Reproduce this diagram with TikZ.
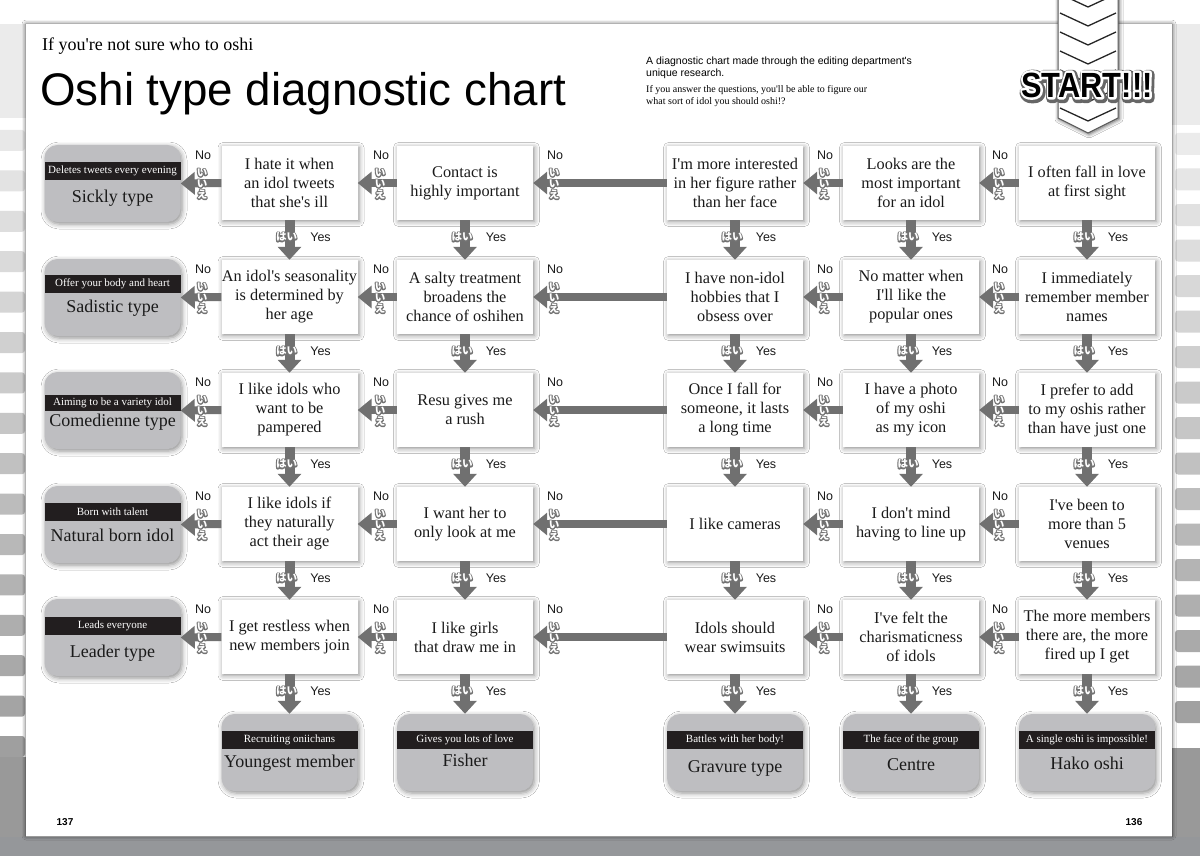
\documentclass[tikz,border=0pt]{standalone}
\usepackage{fontspec}
\setmainfont{Liberation Serif}[Ligatures=TeXOff]
\newfontfamily\arial{Liberation Sans}[Ligatures=TeXOff]
\newfontfamily\jp{Noto Sans CJK JP}
\usetikzlibrary{arrows.meta,shadows.blur}
\definecolor{arrowgray}{HTML}{707070}
\definecolor{resgray}{HTML}{BEBEC1}
\definecolor{bandblack}{HTML}{221E1F}
\definecolor{pagegray}{HTML}{95979A}
\definecolor{textblack}{HTML}{1A1A1A}

% text drawn as stroked outline only (render mode 1)
\newcommand\outlinetext[3]{\special{pdf:literal direct #1 RG #2 w 1 j 1 J 1 Tr}#3\special{pdf:literal direct 0 Tr}}

\tikzset{
  qbox/.style={fill=white, minimum width=136pt, minimum height=74pt, inner sep=0pt, align=center, text=textblack, font=\fontsize{16.3}{19}\selectfont, blur shadow={shadow xshift=1.5pt, shadow yshift=-1.5pt, shadow blur radius=5pt, shadow opacity=45}},
  rbox/.style={fill=resgray, rounded corners=13pt, minimum width=136pt, minimum height=77pt, inner sep=0pt, blur shadow={shadow xshift=1.5pt, shadow yshift=-2pt, shadow blur radius=5pt, shadow opacity=45}},
  band/.style={fill=bandblack, text=white, minimum width=136pt, minimum height=18pt, inner sep=0pt, font=\fontsize{11}{12}\selectfont},
  rname/.style={anchor=base, inner sep=0pt, text=textblack, font=\fontsize{18}{20}\selectfont},
  harrow/.style={draw=arrowgray, line width=8pt, -{Triangle[length=14pt,width=22pt]}},
  varrow/.style={draw=arrowgray, line width=10pt, -{Triangle[length=13pt,width=23pt]}},
  lab/.style={inner sep=0pt, text=textblack, font=\arial\fontsize{12.5}{13}\selectfont},
  jpv/.style={inner sep=0pt, align=center, font=\jp\bfseries\fontsize{10.5}{11}\selectfont},
  jph/.style={inner sep=0pt, font=\jp\bfseries\fontsize{10.5}{11}\selectfont},
  startlab/.style={inner sep=0pt, font=\arial\bfseries\fontsize{35}{35}\selectfont},
}

\begin{document}
\begin{tikzpicture}[x=1pt,y=-1pt]
\useasboundingbox (0,0) rectangle (1200,856);
\fill[white] (0,0) rectangle (1200,856);
% side strips with tabs
\fill[black!8] (0,24) rectangle (26,118);
\fill[black!8] (1172,24) rectangle (1200,125);
\foreach \k in {0,...,15}{\pgfmathsetmacro\p{9+1.9*\k}
  \fill[black!\p, rounded corners=3pt] (-8,{130+40.4*\k}) rectangle (25,{151+40.4*\k});}
\fill[black!40] (0,757) rectangle (26,856);
\foreach \k in {0,...,16}{\pgfmathsetmacro\p{8+1.8*\k}
  \fill[black!\p, rounded corners=3pt] (1175,{133+35.5*\k}) rectangle (1208,{155+35.5*\k});}
\fill[black!40] (1172,748) rectangle (1200,856);
\fill[pagegray] (0,837) rectangle (1200,856);
% page
\fill[white, blur shadow={shadow xshift=0pt, shadow yshift=0pt, shadow blur radius=4pt, shadow opacity=70}] (26,24) rectangle (1172,836);

% start strip
\path[fill=white, draw=black!65, line width=1pt, blur shadow={shadow xshift=1pt, shadow yshift=-1pt, shadow blur radius=4pt, shadow opacity=70}] (1058,-4) -- (1118,-4) -- (1118,118) -- (1088,133) -- (1058,118) -- cycle;
\foreach \cy in {-6,13,32,51,70,89,108}{\draw[black!85, line width=1.3pt] (1060,\cy) -- (1088,{\cy+13}) -- (1116,\cy);}
\node[startlab, text=black!60] (startshadow) at (1088,86.5) {\outlinetext{0.4 0.4 0.4}{9}{\scalebox{0.88}[1]{START!!!}}};
\node[startlab, text=white] (startoutline) at (1087,85) {\outlinetext{1 1 1}{5}{\scalebox{0.88}[1]{START!!!}}};
\node[startlab, text=black] (start) at (1087,85) {\scalebox{0.88}[1]{START!!!}};

% titles
\node[anchor=base west, inner sep=0pt, font=\fontsize{18}{20}\selectfont] (sub) at (42,51) {If you're not sure who to oshi};
\node[anchor=base west, inner sep=0pt, font=\arial\fontsize{45.7}{50}\selectfont] (title) at (40,106) {Oshi type diagnostic chart};
\node[anchor=base west, inner sep=0pt, font=\arial\fontsize{10.5}{12}\selectfont] (introA) at (646,65) {A diagnostic chart made through the editing department's};
\node[anchor=base west, inner sep=0pt, font=\arial\fontsize{10.5}{12}\selectfont] (introB) at (646,77) {unique research.};
\node[anchor=base west, inner sep=0pt, font=\fontsize{10}{12}\selectfont] (introC) at (646,93) {If you answer the questions, you'll be able to figure our};
\node[anchor=base west, inner sep=0pt, font=\fontsize{10}{12}\selectfont] (introD) at (646,105) {what sort of idol you should oshi!?};
\node[inner sep=0pt, font=\arial\bfseries\fontsize{10}{10}\selectfont] (p137) at (65,822) {137};
\node[inner sep=0pt, font=\arial\bfseries\fontsize{10}{10}\selectfont] (p136) at (1134,822) {136};

% question boxes
\node[qbox] (q1A) at (289.5,183) {I hate it when\\an idol tweets\\that she's ill};
\node[qbox] (q1B) at (465,183) {Contact is\\highly important};
\node[qbox] (q1C) at (735,183) {I'm more interested\\in her figure rather\\than her face};
\node[qbox] (q1D) at (911,183) {Looks are the\\most important\\for an idol};
\node[qbox] (q1E) at (1087,183) {I often fall in love\\at first sight};
\node[qbox] (q2A) at (289.5,297) {An idol's seasonality\\is determined by\\her age};
\node[qbox] (q2B) at (465,297) {A salty treatment\\broadens the\\chance of oshihen};
\node[qbox] (q2C) at (735,297) {I have non-idol\\hobbies that I\\obsess over};
\node[qbox] (q2D) at (911,297) {No matter when\\I'll like the\\popular ones};
\node[qbox] (q2E) at (1087,297) {I immediately\\remember member\\names};
\node[qbox] (q3A) at (289.5,410) {I like idols who\\want to be\\pampered};
\node[qbox] (q3B) at (465,410) {Resu gives me\\a rush};
\node[qbox] (q3C) at (735,410) {Once I fall for\\someone, it lasts\\a long time};
\node[qbox] (q3D) at (911,410) {I have a photo\\of my oshi\\as my icon};
\node[qbox] (q3E) at (1087,410) {I prefer to add\\to my oshis rather\\than have just one};
\node[qbox] (q4A) at (289.5,524) {I like idols if\\they naturally\\act their age};
\node[qbox] (q4B) at (465,524) {I want her to\\only look at me};
\node[qbox] (q4C) at (735,524) {I like cameras};
\node[qbox] (q4D) at (911,524) {I don't mind\\having to line up};
\node[qbox] (q4E) at (1087,524) {I've been to\\more than 5\\venues};
\node[qbox] (q5A) at (289.5,637) {I get restless when\\new members join};
\node[qbox] (q5B) at (465,637) {I like girls\\that draw me in};
\node[qbox] (q5C) at (735,637) {Idols should\\wear swimsuits};
\node[qbox] (q5D) at (911,637) {I've felt the\\charismaticness\\of idols};
\node[qbox] (q5E) at (1087,637) {The more members\\there are, the more\\fired up I get};

% left results
\node[rbox] (r1) at (112.5,183.5) {};
\node[band] (r1b) at (112.5,171) {Deletes tweets every evening};
\node[rname] (r1n) at (112.5,202) {Sickly type};
\node[rbox] (r2) at (112.5,297.5) {};
\node[band] (r2b) at (112.5,284) {Offer your body and heart};
\node[rname] (r2n) at (112.5,312) {Sadistic type};
\node[rbox] (r3) at (112.5,410.5) {};
\node[band, minimum height=16pt] (r3b) at (112.5,403) {Aiming to be a variety idol};
\node[rname] (r3n) at (112.5,426) {Comedienne type};
\node[rbox] (r4) at (112.5,524.5) {};
\node[band] (r4b) at (112.5,512) {Born with talent};
\node[rname] (r4n) at (112.5,541) {Natural born idol};
\node[rbox] (r5) at (112.5,637.5) {};
\node[band] (r5b) at (112.5,626) {Leads everyone};
\node[rname] (r5n) at (112.5,657) {Leader type};

% bottom results
\node[rbox] (bA) at (289.5,752.5) {};
\node[band] (bAb) at (289.5,740) {Recruiting oniichans};
\node[rname] (bAn) at (289.5,767) {Youngest member};
\node[rbox] (bB) at (465,752.5) {};
\node[band] (bBb) at (465,740) {Gives you lots of love};
\node[rname] (bBn) at (465,766) {Fisher};
\node[rbox] (bC) at (735,752.5) {};
\node[band] (bCb) at (735,740) {Battles with her body!};
\node[rname] (bCn) at (735,772) {Gravure type};
\node[rbox] (bD) at (911,752.5) {};
\node[band] (bDb) at (911,740) {The face of the group};
\node[rname] (bDn) at (911,770) {Centre};
\node[rbox] (bE) at (1087,752.5) {};
\node[band] (bEb) at (1087,740) {A single oshi is impossible!};
\node[rname] (bEn) at (1087,769) {Hako oshi};

% arrows
\foreach \ri in {1,...,5}{
  \draw[harrow] (q\ri E.west) -- (q\ri D.east);
  \draw[harrow] (q\ri D.west) -- (q\ri C.east);
  \draw[harrow] (q\ri C.west) -- (q\ri B.east);
  \draw[harrow] (q\ri B.west) -- (q\ri A.east);
  \draw[harrow] (q\ri A.west) -- (r\ri.east);
}
\foreach \c in {A,B,C,D,E}{
  \draw[varrow] (q1\c.south) -- (q2\c.north);
  \draw[varrow] (q2\c.south) -- (q3\c.north);
  \draw[varrow] (q3\c.south) -- (q4\c.north);
  \draw[varrow] (q4\c.south) -- (q5\c.north);
  \draw[varrow] (q5\c.south) -- (b\c.north);
}

% labels
\foreach \ri/\yc in {1/183,2/297,3/410,4/524,5/637}{
  \pgfmathsetmacro\ny{\yc-28}
  \pgfmathsetmacro\iy{\yc+1}
  \pgfmathsetmacro\yy{\yc+54}
  \foreach \gi/\gx in {1/203,2/381,3/555,4/825,5/1000}{
    \node[lab] (no\ri\gi) at (\gx,\ny) {No};
    \node[jpv, text=black!55] (iieo\ri\gi) at (\gx-1,\iy) {\outlinetext{0.45 0.45 0.45}{2.2}{い\\い\\え}};
    \node[jpv, text=white] (iie\ri\gi) at (\gx-1,\iy) {い\\い\\え};
  }
  \foreach \c/\xc in {A/289.5,B/465,C/735,D/911,E/1087}{
    \pgfmathsetmacro\hx{\xc-3}
    \pgfmathsetmacro\tx{\xc+31}
    \node[jph, text=black!55] (haio\ri\c) at (\hx,\yy) {\outlinetext{0.45 0.45 0.45}{2.2}{はい}};
    \node[jph, text=white] (hai\ri\c) at (\hx,\yy) {はい};
    \node[lab] (yes\ri\c) at (\tx,\yy) {Yes};
  }
}
\end{tikzpicture}
\end{document}
